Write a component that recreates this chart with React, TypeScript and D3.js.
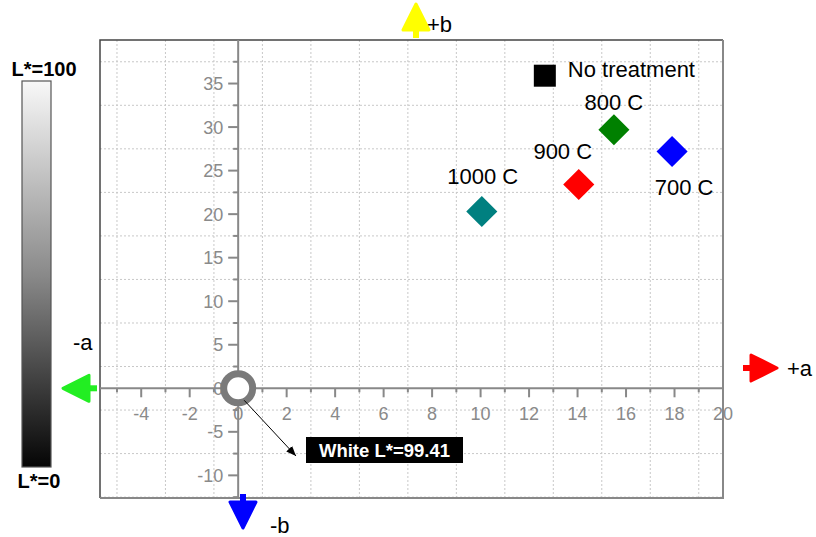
import { useEffect, useRef } from "react";
import * as d3 from "d3";

// sample data
const samples = ["No treatment", "800 C", "900 C", "1000 C", "700 C"];
const aValues = [12.65, 15.5, 14.05, 10.05, 17.9];
const bValues = [35.9, 29.7, 23.4, 20.3, 27.2];
const markerColors = ["#000000", "#008000", "#ff0000", "#008080", "#0000ff"];
const markerShapes = ["square", "diamond", "diamond", "diamond", "diamond"];
// label offsets in px relative to the marker
const labelDx = [23, 0, -16, 1, 12];
const labelDy = [-7, -28, -34, -36, 36];
const labelAnchor = ["start", "middle", "middle", "middle", "middle"];

const xTicks = [-4, -2, 0, 2, 4, 6, 8, 10, 12, 14, 16, 18, 20];
const yTicks = [-10, -5, 0, 5, 10, 15, 20, 25, 30, 35];

const whitePoint = { a: 0, b: 0, label: "White L*=99.41" };

export default function App() {
  const svgRef = useRef<SVGSVGElement>(null);

  useEffect(() => {
    if (!svgRef.current) return;
    const svg = d3.select(svgRef.current);
    svg.selectAll("*").remove();

    const font = "Arial, 'Liberation Sans', sans-serif";
    const left = 100,
      right = 723,
      top = 40,
      bottom = 498;

    const x = d3.scaleLinear().domain([-5.7, 20]).range([left, right]);
    const y = d3.scaleLinear().domain([-12.6, 40]).range([bottom, top]);

    // gradient for lightness bar
    const defs = svg.append("defs");
    const grad = defs
      .append("linearGradient")
      .attr("id", "lgrad")
      .attr("x1", 0)
      .attr("y1", 0)
      .attr("x2", 0)
      .attr("y2", 1);
    grad.append("stop").attr("offset", "0%").attr("stop-color", "#f8f8f8");
    grad.append("stop").attr("offset", "50%").attr("stop-color", "#8a8a8a");
    grad.append("stop").attr("offset", "100%").attr("stop-color", "#050505");

    svg
      .append("rect")
      .attr("x", 22)
      .attr("y", 81)
      .attr("width", 29)
      .attr("height", 386)
      .attr("fill", "url(#lgrad)")
      .attr("stroke", "#555")
      .attr("stroke-width", 1.2);

    svg
      .append("text")
      .attr("x", 44)
      .attr("y", 76)
      .attr("text-anchor", "middle")
      .style("font-family", font)
      .style("font-weight", "bold")
      .style("font-size", "20px")
      .text("L*=100");
    svg
      .append("text")
      .attr("x", 39)
      .attr("y", 488)
      .attr("text-anchor", "middle")
      .style("font-family", font)
      .style("font-weight", "bold")
      .style("font-size", "20px")
      .text("L*=0");

    // grid
    const grid = svg.append("g").attr("stroke", "#c8c8c8").attr("stroke-dasharray", "2,2");
    d3.range(-5, 20, 2).forEach((v) => {
      grid
        .append("line")
        .attr("x1", x(v))
        .attr("x2", x(v))
        .attr("y1", top)
        .attr("y2", bottom);
    });
    d3.range(-12.5, 40, 5).forEach((v) => {
      grid
        .append("line")
        .attr("x1", left)
        .attr("x2", right)
        .attr("y1", y(v))
        .attr("y2", y(v));
    });

    // frame
    svg
      .append("path")
      .attr("d", `M${left},${bottom}V${top}H${right}`)
      .attr("fill", "none")
      .attr("stroke", "#444")
      .attr("stroke-width", 1.5);
    svg
      .append("path")
      .attr("d", `M${right},${top}V${bottom}H${left}`)
      .attr("fill", "none")
      .attr("stroke", "#888")
      .attr("stroke-width", 2);

    // axes through origin
    const axisColor = "#888";
    svg
      .append("line")
      .attr("x1", left)
      .attr("x2", right)
      .attr("y1", y(0))
      .attr("y2", y(0))
      .attr("stroke", axisColor)
      .attr("stroke-width", 2);
    svg
      .append("line")
      .attr("x1", x(0))
      .attr("x2", x(0))
      .attr("y1", top)
      .attr("y2", bottom)
      .attr("stroke", axisColor)
      .attr("stroke-width", 2);

    const ticks = svg.append("g").attr("stroke", axisColor).attr("stroke-width", 2);
    xTicks.forEach((v) => {
      ticks
        .append("line")
        .attr("x1", x(v))
        .attr("x2", x(v))
        .attr("y1", y(0))
        .attr("y2", y(0) + 9);
    });
    d3.range(-5, 20, 2).forEach((v) => {
      ticks
        .append("line")
        .attr("x1", x(v))
        .attr("x2", x(v))
        .attr("y1", y(0))
        .attr("y2", y(0) + 4);
    });
    yTicks.forEach((v) => {
      ticks
        .append("line")
        .attr("x1", x(0) - 10)
        .attr("x2", x(0))
        .attr("y1", y(v))
        .attr("y2", y(v));
    });
    d3.range(-12.5, 40, 5).forEach((v) => {
      ticks
        .append("line")
        .attr("x1", x(0) - 5)
        .attr("x2", x(0))
        .attr("y1", y(v))
        .attr("y2", y(v));
    });

    svg
      .append("g")
      .selectAll("text")
      .data(xTicks)
      .enter()
      .append("text")
      .attr("x", (d) => x(d))
      .attr("y", y(0) + 32)
      .attr("text-anchor", "middle")
      .attr("fill", "#8a8a8a")
      .style("font-family", font)
      .style("font-size", "18px")
      .text((d) => String(d));

    svg
      .append("g")
      .selectAll("text")
      .data(yTicks)
      .enter()
      .append("text")
      .attr("x", x(0) - 15)
      .attr("y", (d) => y(d) + 6.5)
      .attr("text-anchor", "end")
      .attr("fill", "#8a8a8a")
      .style("font-family", font)
      .style("font-size", "18px")
      .text((d) => String(d));

    // direction arrows
    const arrow = (cx: number, cy: number, angle: number, color: string) => {
      const g = svg
        .append("g")
        .attr("transform", `translate(${cx},${cy}) rotate(${angle})`);
      g.append("rect")
        .attr("x", -14)
        .attr("y", -3)
        .attr("width", 8)
        .attr("height", 6)
        .attr("fill", color);
      g.append("path")
        .attr("d", "M-6,-13L20,0L-6,13Z")
        .attr("fill", color)
        .attr("stroke", color)
        .attr("stroke-width", 3)
        .attr("stroke-linejoin", "round");
    };
    arrow(757, 368, 0, "#ff0000");
    arrow(83, y(0), 180, "#22ee22");
    arrow(416, 24, -90, "#ffff00");
    arrow(243, 508, 90, "#0000ff");

    const dirLabel = (tx: number, ty: number, t: string) =>
      svg
        .append("text")
        .attr("x", tx)
        .attr("y", ty)
        .style("font-family", font)
        .style("font-size", "22px")
        .text(t);
    dirLabel(787, 376, "+a");
    dirLabel(427, 32, "+b");
    dirLabel(73, 350, "-a");
    dirLabel(270, 533, "-b");

    // sample markers
    const pts = svg.append("g");
    samples.forEach((s, i) => {
      const px = x(aValues[i]);
      const py = y(bValues[i]);
      if (markerShapes[i] === "square") {
        pts
          .append("rect")
          .attr("x", px - 11)
          .attr("y", py - 11)
          .attr("width", 22)
          .attr("height", 22)
          .attr("fill", markerColors[i]);
      } else {
        pts
          .append("rect")
          .attr("x", -11)
          .attr("y", -11)
          .attr("width", 22)
          .attr("height", 22)
          .attr("transform", `translate(${px},${py}) rotate(45)`)
          .attr("fill", markerColors[i]);
      }
      pts
        .append("text")
        .attr("x", px + labelDx[i])
        .attr("y", py + labelDy[i] + 8)
        .attr("text-anchor", labelAnchor[i])
        .style("font-family", font)
        .style("font-size", "22px")
        .text(s);
    });

    // white reference point and callout
    const wx = x(whitePoint.a);
    const wy = y(whitePoint.b);
    svg
      .append("circle")
      .attr("cx", wx)
      .attr("cy", wy)
      .attr("r", 14.5)
      .attr("fill", "#fff")
      .attr("stroke", "#7a7a7a")
      .attr("stroke-width", 7);

    defs
      .append("marker")
      .attr("id", "ah")
      .attr("viewBox", "0 0 10 10")
      .attr("refX", 10)
      .attr("refY", 5)
      .attr("markerWidth", 10)
      .attr("markerHeight", 10)
      .attr("markerUnits", "userSpaceOnUse")
      .attr("orient", "auto")
      .append("path")
      .attr("d", "M0,1L10,5L0,9Z")
      .attr("fill", "#000");

    svg
      .append("line")
      .attr("x1", wx + 6)
      .attr("y1", wy + 12)
      .attr("x2", 296)
      .attr("y2", 456)
      .attr("stroke", "#000")
      .attr("stroke-width", 1)
      .attr("marker-end", "url(#ah)");

    svg
      .append("rect")
      .attr("x", 306)
      .attr("y", 437)
      .attr("width", 157)
      .attr("height", 26)
      .attr("fill", "#000");
    svg
      .append("text")
      .attr("x", 384.5)
      .attr("y", 457)
      .attr("text-anchor", "middle")
      .attr("fill", "#fff")
      .style("font-family", font)
      .style("font-weight", "bold")
      .style("font-size", "18.5px")
      .text(whitePoint.label);
  }, []);

  return (
    <svg
      ref={svgRef}
      width={816}
      height={537}
      style={{ position: "absolute", left: 0, top: 0, background: "#fff" }}
    ></svg>
  );
}
